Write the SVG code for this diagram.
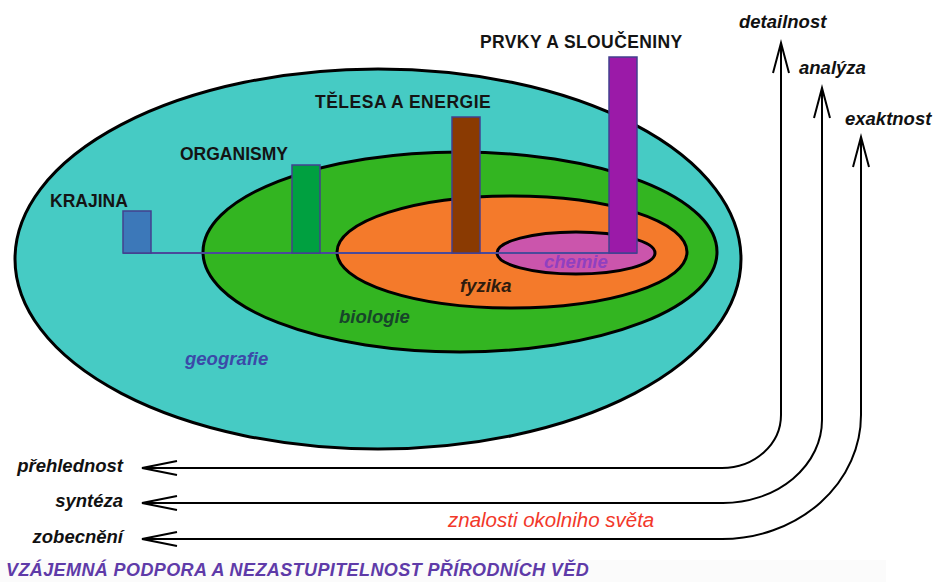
<svg xmlns="http://www.w3.org/2000/svg" width="935" height="582" viewBox="0 0 935 582">
<style>
.ell{stroke:#000;stroke-width:3}
.bar{stroke:#43408e;stroke-width:1.5}
.cap{font-family:"Liberation Sans",Arial,sans-serif;font-weight:bold;font-size:17.5px;fill:#141414}
.it{font-family:"Liberation Sans",Arial,sans-serif;font-weight:bold;font-style:italic;font-size:18.5px}
.conn{fill:none;stroke:#000;stroke-width:2}
.head{fill:none;stroke:#000;stroke-width:2;stroke-linejoin:miter}
</style>
<rect x="0" y="0" width="935" height="582" fill="#fff"/>
<rect x="0" y="560" width="886" height="22" fill="#fbfbfb"/>

<g id="geografie">
<ellipse class="ell" cx="378" cy="259" rx="363" ry="190" fill="#46cbc4"/>
</g>
<g id="biologie">
<ellipse class="ell" cx="460" cy="252" rx="257" ry="100" fill="#33b521"/>
</g>
<g id="fyzika">
<ellipse class="ell" cx="512" cy="252" rx="175" ry="56" fill="#f47a2b"/>
</g>
<g id="chemie">
<ellipse class="ell" cx="576" cy="253" rx="79" ry="21" fill="#cb55ac"/>
</g>

<g id="baseline">
<line x1="123" y1="253" x2="637" y2="253" stroke="#4a4a9a" stroke-width="2"/>
</g>

<g id="krajina">
<rect class="bar" x="123" y="211" width="28" height="42" fill="#3c78b9"/>
<text class="cap" x="50" y="207">KRAJINA</text>
</g>
<g id="organismy">
<rect class="bar" x="292" y="165" width="28" height="88" fill="#00a040"/>
<text class="cap" x="180" y="160">ORGANISMY</text>
</g>
<g id="telesa">
<rect class="bar" x="452" y="117" width="28" height="136" fill="#8a3a02"/>
<text class="cap" x="315" y="108" letter-spacing="0.5">TĚLESA A ENERGIE</text>
</g>
<g id="prvky">
<rect class="bar" x="609" y="57" width="28" height="196" fill="#9b1aa8"/>
<text class="cap" x="480" y="48" letter-spacing="0.4">PRVKY A SLOUČENINY</text>
</g>

<g id="labels">
<text class="it" x="185" y="365" fill="#3b4aa8">geografie</text>
<text class="it" x="339" y="323" fill="#17452a">biologie</text>
<text class="it" x="460" y="292" fill="#2e1c0e">fyzika</text>
<text class="it" x="544" y="268" fill="#9040c0">chemie</text>
</g>

<g id="connectors">
<path class="conn" d="M781 44 V415 A59 53 0 0 1 722 468 H144"/>
<path class="conn" d="M822 89 V420 A99 83 0 0 1 723 503 H144"/>
<path class="conn" d="M861 138 V415 A139 124 0 0 1 722 539 H144"/>
<path class="head" d="M773 73 L781 43 L789 73"/>
<path class="head" d="M814 118 L822 88 L830 118"/>
<path class="head" d="M853 167 L861 137 L869 167"/>
<path class="head" d="M177 461 L142 468 L177 475"/>
<path class="head" d="M177 496 L142 503 L177 510"/>
<path class="head" d="M177 532 L142 539 L177 546"/>
</g>

<g id="axis-labels">
<text class="it" x="739" y="28" fill="#111">detailnost</text>
<text class="it" x="799" y="74" fill="#111">analýza</text>
<text class="it" x="845" y="125" fill="#111">exaktnost</text>
<text class="it" x="123" y="472" text-anchor="end" fill="#111">přehlednost</text>
<text class="it" x="123" y="507" text-anchor="end" fill="#111">syntéza</text>
<text class="it" x="123" y="543" text-anchor="end" fill="#111">zobecnění</text>
</g>

<g id="caption">
<text x="448" y="527" font-family="'Liberation Sans',Arial,sans-serif" font-style="italic" font-size="20.5px" fill="#f2382a">znalosti okolniho světa</text>
<text x="6" y="576" font-family="'Liberation Sans',Arial,sans-serif" font-weight="bold" font-style="italic" font-size="18px" letter-spacing="0.4" fill="#5e3aa8">VZÁJEMNÁ PODPORA A NEZASTUPITELNOST PŘÍRODNÍCH VĚD</text>
</g>
</svg>
